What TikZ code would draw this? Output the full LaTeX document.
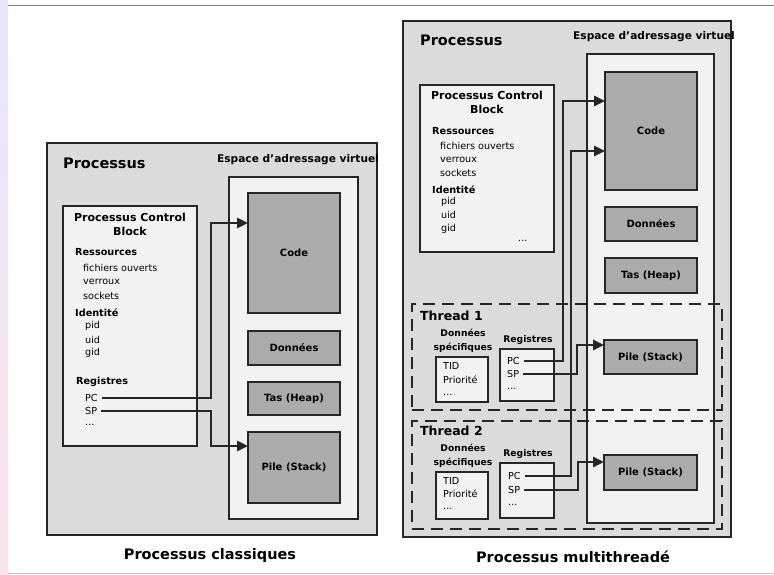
\documentclass[tikz,border=0pt]{standalone}
\usepackage{fontspec}
\setmainfont{DejaVu Sans}
\usetikzlibrary{arrows.meta}

\definecolor{procgray}{gray}{0.86}
\definecolor{palebox}{gray}{0.95}
\definecolor{seggray}{gray}{0.67}
\definecolor{scanblue}{RGB}{232,230,250}
\definecolor{scanpink}{RGB}{250,228,236}

\tikzset{
  box/.style={draw=black!85, line width=2.8pt, inner sep=0pt, outer sep=0pt},
  procbox/.style={box, fill=procgray},
  whitebox/.style={box, fill=palebox},
  segbox/.style={box, fill=seggray, font=\fontsize{10}{12}\selectfont\bfseries},
  threadbox/.style={draw=black!85, line width=2.8pt, dash pattern=on 12pt off 7pt, inner sep=0pt},
  bigtitle/.style={anchor=west, inner sep=0pt, font=\fontsize{14.5}{17}\selectfont\bfseries},
  spacetitle/.style={anchor=west, inner sep=0pt, font=\fontsize{10.6}{13}\selectfont\bfseries},
  pcbtitle/.style={align=center, inner sep=0pt, font=\fontsize{11}{14}\selectfont\bfseries},
  group/.style={anchor=west, inner sep=0pt, font=\fontsize{9.7}{12}\selectfont\bfseries},
  item/.style={anchor=west, inner sep=0pt, font=\fontsize{9.6}{12}\selectfont},
  threadtitle/.style={anchor=west, inner sep=0pt, font=\fontsize{12.5}{15}\selectfont\bfseries},
  smallhead/.style={align=center, inner sep=0pt, font=\fontsize{9.2}{14}\selectfont\bfseries},
  caption/.style={inner sep=0pt, font=\fontsize{14.5}{17}\selectfont\bfseries},
  flow/.style={draw=black!85, line width=2.6pt, shorten <=4pt, -{Triangle[length=11pt,width=10pt]}}
}

\begin{document}
\begin{tikzpicture}[x=1pt, y=-1pt]
  \useasboundingbox (0,0) rectangle (774,574);
  \fill[white] (0,0) rectangle (774,574);
  % scan edges
  \shade[top color=scanblue, bottom color=scanpink] (0,0) rectangle (8,574);
  \draw[gray, line width=0.8pt] (8,5) -- (774,5);
  \draw[black!25, line width=0.6pt] (8,573) -- (774,573);

  % ---------- Processus classiques ----------
  \node (outerL) [procbox, minimum width=330pt, minimum height=392pt] at (212,339) {};
  \node (addrL) [whitebox, minimum width=129pt, minimum height=342pt] at (293.5,348) {};
  \node (procL) [bigtitle] at (63,163) {Processus};
  \node (spaceL) [spacetitle] at (217,160) {Espace d'adressage virtuel};

  \node (codeL) [segbox, minimum width=92pt, minimum height=120pt] at (294,253) {Code};
  \node (dataL) [segbox, minimum width=92pt, minimum height=34pt] at (294,348) {Données};
  \node (heapL) [segbox, minimum width=92pt, minimum height=33pt] at (294,398.5) {Tas (Heap)};
  \node (stackL) [segbox, minimum width=92pt, minimum height=71pt] at (294,467.5) {Pile (Stack)};

  \node (pcbL) [whitebox, minimum width=134pt, minimum height=240pt] at (130,326) {};
  \node (pcbtitleL) [pcbtitle] at (130,224) {Processus Control\\Block};
  \node (resL) [group] at (75,252) {Ressources};
  \node (filesL) [item] at (83,268) {fichiers ouverts};
  \node (locksL) [item] at (83,282) {verroux};
  \node (socksL) [item] at (83,296) {sockets};
  \node (idL) [group] at (75,313) {Identité};
  \node (pidL) [item] at (85,326) {pid};
  \node (uidL) [item] at (85,340) {uid};
  \node (gidL) [item] at (85,353) {gid};
  \node (regsL) [group] at (76,382) {Registres};
  \node (pcL) [item] at (85,398) {PC};
  \node (spL) [item] at (85,411) {SP};
  \node (moreL) [item] at (85,425) {...};

  \coordinate (laneL) at (211,0);
  \draw [flow] (pcL.east) -- (pcL.east -| laneL) |- ([yshift=30pt]codeL.west);
  \draw [flow] (spL.east) -- (spL.east -| laneL) |- ([yshift=21.5pt]stackL.west);

  \node (capL) [caption] at (210,555) {Processus classiques};

  % ---------- Processus multithreade ----------
  \node (outerR) [procbox, minimum width=328pt, minimum height=516pt] at (567,279) {};
  \node (addrR) [whitebox, minimum width=127pt, minimum height=469pt] at (650.5,288.5) {};
  \node (procR) [bigtitle] at (420,40) {Processus};
  \node (spaceR) [spacetitle] at (573,37) {Espace d'adressage virtuel};

  \node (codeR) [segbox, minimum width=92pt, minimum height=118pt] at (651,131) {Code};
  \node (dataR) [segbox, minimum width=92pt, minimum height=34pt] at (651,224) {Données};
  \node (heapR) [segbox, minimum width=92pt, minimum height=35pt] at (651,275.5) {Tas (Heap)};

  \node (pcbR) [whitebox, minimum width=134pt, minimum height=167pt] at (487,168.5) {};
  \node (pcbtitleR) [pcbtitle] at (487,102) {Processus Control\\Block};
  \node (resR) [group] at (432,131) {Ressources};
  \node (filesR) [item] at (440,146) {fichiers ouverts};
  \node (locksR) [item] at (440,160) {verroux};
  \node (socksR) [item] at (440,173) {sockets};
  \node (idR) [group] at (432,190) {Identité};
  \node (pidR) [item] at (441,202) {pid};
  \node (uidR) [item] at (441,215) {uid};
  \node (gidR) [item] at (441,229) {gid};
  \node (moreR) [item] at (518,241) {...};

  % thread 1
  \node (thread1) [threadbox, minimum width=310pt, minimum height=106pt] at (567,357) {};
  \node (t1title) [threadtitle] at (420,316) {Thread 1};
  \node (t1spec) [smallhead] at (463,341) {Données\\spécifiques};
  \node (t1tid) [whitebox, minimum width=52pt, minimum height=45pt] at (462,379.5) {};
  \node (t1tidtxt) [item] at (443,366) {TID};
  \node (t1prio) [item] at (443,380) {Priorité};
  \node (t1more) [item] at (443,395) {...};
  \node (t1reghead) [smallhead] at (528,340) {Registres};
  \node (t1reg) [whitebox, minimum width=54pt, minimum height=52pt] at (527,375) {};
  \node (t1pc) [item] at (507,361) {PC};
  \node (t1sp) [item] at (507,374) {SP};
  \node (t1dots) [item] at (507,389) {...};
  \node (stack1) [segbox, minimum width=93pt, minimum height=34pt] at (650.5,357) {Pile (Stack)};

  % thread 2
  \node (thread2) [threadbox, minimum width=310pt, minimum height=108pt] at (567,475) {};
  \node (t2title) [threadtitle] at (420,431) {Thread 2};
  \node (t2spec) [smallhead] at (463,456) {Données\\spécifiques};
  \node (t2tid) [whitebox, minimum width=52pt, minimum height=47pt] at (462,495.5) {};
  \node (t2tidtxt) [item] at (443,481) {TID};
  \node (t2prio) [item] at (443,494) {Priorité};
  \node (t2more) [item] at (443,509) {...};
  \node (t2reghead) [smallhead] at (528,454) {Registres};
  \node (t2reg) [whitebox, minimum width=54pt, minimum height=55pt] at (527,490.5) {};
  \node (t2pc) [item] at (508,476) {PC};
  \node (t2sp) [item] at (508,490) {SP};
  \node (t2dots) [item] at (508,505) {...};
  \node (stack2) [segbox, minimum width=93pt, minimum height=35pt] at (650.5,472.5) {Pile (Stack)};

  \coordinate (laneR1) at (563,0);
  \coordinate (laneR2) at (571,0);
  \coordinate (laneR3) at (577,0);
  \coordinate (laneR4) at (578,0);
  \draw [flow] (t1pc.east) -- (t1pc.east -| laneR1) |- ([yshift=30pt]codeR.west);
  \draw [flow] (t2pc.east) -- (t2pc.east -| laneR2) |- ([yshift=-20pt]codeR.west);
  \draw [flow] (t1sp.east) -- (t1sp.east -| laneR3) |- ([yshift=12pt]stack1.west);
  \draw [flow] (t2sp.east) -- (t2sp.east -| laneR4) |- ([yshift=10.5pt]stack2.west);

  \node (capR) [caption] at (573,557) {Processus multithreadé};
\end{tikzpicture}
\end{document}
